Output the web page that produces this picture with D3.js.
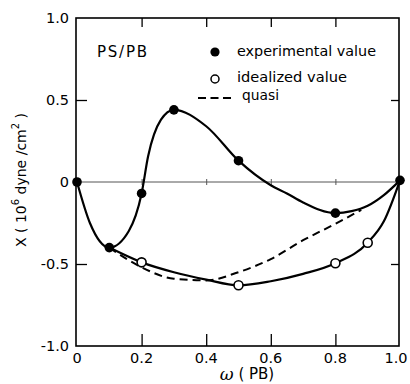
<!DOCTYPE html>
<html><head><meta charset="utf-8">
<script src="https://cdn.jsdelivr.net/npm/d3@7"></script>
<style>body{margin:0;background:#fff}svg{display:block}</style>
</head><body>
<script>
// ---- data ----
const xTicks = [0, 0.2, 0.4, 0.6, 0.8, 1.0];
const xTickLabels = ["0", "0.2", "0.4", "0.6", "0.8", "1.0"];
const yTicks = [1.0, 0.5, 0, -0.5, -1.0];
const yTickLabels = ["1.0", "0.5", "0", "-0.5", "-1.0"];

// experimental value markers
const expX = [0, 0.1, 0.2, 0.3, 0.5, 0.8, 1.0];
const expY = [0, -0.40, -0.07, 0.44, 0.13, -0.19, 0.01];
// idealized value markers
const idealX = [0.2, 0.5, 0.8, 0.9];
const idealY = [-0.49, -0.63, -0.495, -0.37];

// traced curves
const expCurveX = [0, 0.04, 0.1, 0.16, 0.2, 0.22, 0.26, 0.3, 0.4, 0.5, 0.6, 0.65, 0.7, 0.8, 0.85, 0.9, 0.95, 1.0];
const expCurveY = [0, -0.25, -0.40, -0.30, -0.07, 0.155, 0.38, 0.44, 0.34, 0.13, -0.02, -0.07, -0.125, -0.19, -0.178, -0.145, -0.08, 0.01];
const idealCurveX = [0.1, 0.2, 0.3, 0.4, 0.5, 0.6, 0.7, 0.8, 0.9, 0.95, 1.0];
const idealCurveY = [-0.40, -0.49, -0.55, -0.595, -0.63, -0.605, -0.56, -0.495, -0.37, -0.24, 0.01];
const quasiX = [0.1, 0.2, 0.3, 0.4, 0.5, 0.6, 0.7, 0.8, 0.88];
const quasiY = [-0.40, -0.52, -0.59, -0.60, -0.55, -0.47, -0.355, -0.255, -0.17];

const legendLabels = ["experimental value", "idealized value", "quasi"];
const titleText = "PS/PB";

// ---- drawing ----
const W = 410, H = 384;
const svg = d3.select("body").append("svg").attr("width", W).attr("height", H);
const x = d3.scaleLinear().domain([0, 1]).range([77, 400]);
const y = d3.scaleLinear().domain([-1, 1]).range([346, 18]);
const font = "DejaVu Sans, sans-serif";

// zero line with small ticks
svg.append("line").attr("x1", x(0)).attr("x2", x(1)).attr("y1", y(0)).attr("y2", y(0))
  .attr("stroke", "#555").attr("stroke-width", 1);
svg.append("g").attr("transform", `translate(0,${y(0) + 3})`)
  .call(d3.axisTop(x).tickValues([0.2, 0.4, 0.6, 0.8]).tickSize(6))
  .call(g => { g.select(".domain").remove(); g.selectAll("text").remove(); g.selectAll("line").attr("stroke", "#555").attr("stroke-width", 1); });

// frame
svg.append("rect").attr("x", 76).attr("y", 18).attr("width", 323).attr("height", 328)
  .attr("fill", "none").attr("stroke", "#000").attr("stroke-width", 1.6);

// inner ticks
const inner = [0.2, 0.4, 0.6, 0.8];
const tickStyle = g => { g.select(".domain").remove(); g.selectAll("line").attr("stroke", "#000").attr("stroke-width", 1.3); g.selectAll("text").remove(); };
svg.append("g").attr("transform", `translate(0,346)`).call(d3.axisBottom(x).tickValues(inner).tickSize(-12)).call(tickStyle);
svg.append("g").attr("transform", `translate(0,18)`).call(d3.axisTop(x).tickValues(inner).tickSize(-9)).call(tickStyle);
svg.append("g").attr("transform", `translate(76,0)`).call(d3.axisLeft(y).tickValues([0.5, -0.5]).tickSize(-11)).call(tickStyle);
svg.append("g").attr("transform", `translate(399,0)`).call(d3.axisRight(y).tickValues([0.5, -0.5]).tickSize(-8)).call(tickStyle);

// tick labels
svg.append("g").selectAll("text").data(xTicks).join("text")
  .attr("x", d => Math.min(x(d), 396)).attr("y", 358).attr("text-anchor", "middle").attr("dominant-baseline", "central")
  .attr("font-family", font).attr("font-size", 14.5).text((d, i) => xTickLabels[i]);
svg.append("g").selectAll("text").data(yTicks).join("text")
  .attr("x", 69).attr("y", d => y(d)).attr("text-anchor", "end").attr("dominant-baseline", "central")
  .attr("font-family", font).attr("font-size", 14.5).text((d, i) => yTickLabels[i]);

// axis titles
const xt = svg.append("text").attr("x", 247).attr("y", 374).attr("text-anchor", "middle")
  .attr("dominant-baseline", "central").attr("font-family", font).attr("font-size", 15);
xt.append("tspan").attr("font-style", "italic").attr("font-family", "DejaVu Serif, serif").attr("font-size", 17).text("ω");
xt.append("tspan").text(" ( PB)");

const yt = svg.append("text").attr("transform", "translate(21,180) rotate(-90)").attr("text-anchor", "middle")
  .attr("dominant-baseline", "central").attr("font-family", font).attr("font-size", 14);
yt.append("tspan").text("X  ( 10");
yt.append("tspan").attr("font-size", 10).attr("dy", -6).text("6");
yt.append("tspan").attr("dy", 6).text("  dyne /cm");
yt.append("tspan").attr("font-size", 10).attr("dy", -6).text("2");
yt.append("tspan").attr("dy", 6).text(" )");

// curves
const line = d3.line().x(d => x(d[0])).y(d => y(d[1])).curve(d3.curveMonotoneX);
svg.append("path").attr("d", line(d3.zip(expCurveX, expCurveY)))
  .attr("fill", "none").attr("stroke", "#000").attr("stroke-width", 2.2);
svg.append("path").attr("d", line(d3.zip(idealCurveX, idealCurveY)))
  .attr("fill", "none").attr("stroke", "#000").attr("stroke-width", 2.2);
svg.append("path").attr("d", line(d3.zip(quasiX, quasiY)))
  .attr("fill", "none").attr("stroke", "#000").attr("stroke-width", 2).attr("stroke-dasharray", "8,5");

// markers
svg.append("g").selectAll("circle").data(d3.zip(idealX, idealY)).join("circle")
  .attr("cx", d => x(d[0])).attr("cy", d => y(d[1])).attr("r", 4.5)
  .attr("fill", "#fff").attr("stroke", "#000").attr("stroke-width", 1.6);
svg.append("g").selectAll("circle").data(d3.zip(expX, expY)).join("circle")
  .attr("cx", d => x(d[0])).attr("cy", d => y(d[1])).attr("r", 4.8).attr("fill", "#000");

// title
svg.append("text").attr("x", 97).attr("y", 57).attr("font-family", font).attr("font-size", 15)
  .attr("textLength", 50).attr("lengthAdjust", "spacing").text(titleText);

// legend
svg.append("circle").attr("cx", 215).attr("cy", 52).attr("r", 4.6).attr("fill", "#000");
svg.append("circle").attr("cx", 215).attr("cy", 79).attr("r", 4).attr("fill", "#fff").attr("stroke", "#000").attr("stroke-width", 1.5);
svg.append("line").attr("x1", 198).attr("x2", 231).attr("y1", 98).attr("y2", 98)
  .attr("stroke", "#000").attr("stroke-width", 2).attr("stroke-dasharray", "8,4.5");
const lx = [237, 237, 242], ly = [56, 82, 100], lw = [139, 110, 37];
legendLabels.forEach((t, i) => {
  svg.append("text").attr("x", lx[i]).attr("y", ly[i]).attr("font-family", font).attr("font-size", 14)
    .attr("textLength", lw[i]).attr("lengthAdjust", "spacingAndGlyphs").text(t);
});
</script>
</body></html>
